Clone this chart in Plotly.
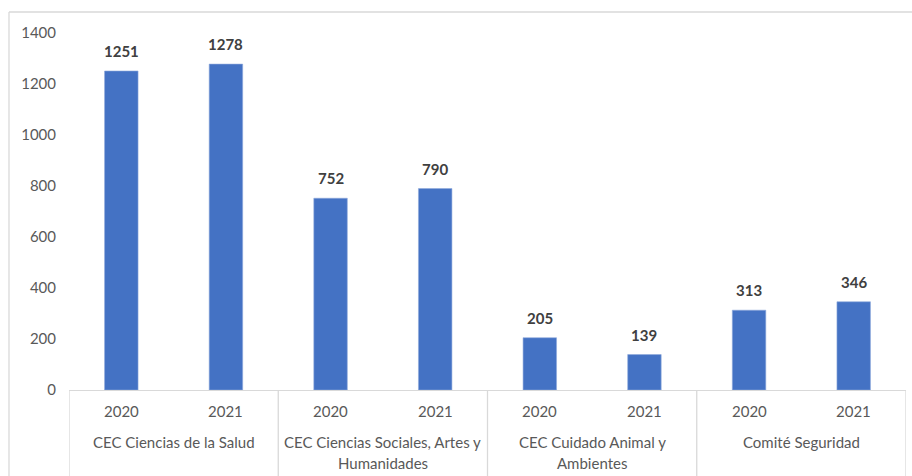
import plotly.graph_objects as go

groups = ["CEC Ciencias de la Salud", "CEC Ciencias Sociales, Artes y\nHumanidades",
          "CEC Cuidado Animal y\nAmbientes", "Comité Seguridad"]
years = ["2020", "2021"]
values = [1251, 1278, 752, 790, 205, 139, 313, 346]
y_ticks = [0, 200, 400, 600, 800, 1000, 1200, 1400]

FONT = "Lato"
TICK_COLOR = "#595959"
LINE_COLOR = "#D9D9D9"
BAR_COLOR = "#4472C4"

xs = list(range(len(values)))
year_labels = [years[i % 2] for i in xs]

fig = go.Figure()
fig.add_trace(go.Bar(
    x=xs, y=values, width=0.32,
    marker=dict(color=BAR_COLOR, line=dict(color="#8FAADC", width=0.6)),
    hoverinfo="x+y",
))

annotations = []
for x, v in zip(xs, values):
    annotations.append(dict(x=x, y=v, xref="x", yref="y", text=f"<b>{v}</b>",
                            showarrow=False, yanchor="bottom", yshift=9,
                            font=dict(family=FONT, size=15, color="#404040")))
for x, lab in zip(xs, year_labels):
    annotations.append(dict(x=x, y=0, xref="x", yref="paper", text=lab,
                            showarrow=False, yanchor="middle", yshift=-21,
                            font=dict(family=FONT, size=15, color=TICK_COLOR)))
for gi, g in enumerate(groups):
    for li, line in enumerate(g.split("\n")):
        annotations.append(dict(x=2 * gi + 0.5, y=0, xref="x", yref="paper", text=line,
                                showarrow=False, yanchor="middle", yshift=-52 - 21 * li,
                                font=dict(family=FONT, size=15, color=TICK_COLOR)))

shapes = []
for b in [-0.5, 1.5, 3.5, 5.5, 7.5]:
    shapes.append(dict(type="line", xref="x", yref="paper", x0=b, x1=b, y0=0, y1=-0.25,
                       line=dict(color=LINE_COLOR, width=1.3)))
# outer chart border (left and top)
shapes.append(dict(type="line", xref="paper", yref="paper", x0=-0.0717, x1=-0.0717,
                   y0=1.0588, y1=-0.3, line=dict(color=LINE_COLOR, width=1.3)))
shapes.append(dict(type="line", xref="paper", yref="paper", x0=-0.0717, x1=1.1,
                   y0=1.0588, y1=1.0588, line=dict(color=LINE_COLOR, width=1.3)))

fig.update_layout(
    width=912, height=476,
    margin=dict(l=69, r=6, t=33, b=86, autoexpand=False),
    paper_bgcolor="white", plot_bgcolor="white",
    showlegend=False,
    xaxis=dict(range=[-0.5, 7.5], showticklabels=False, showgrid=False, zeroline=False,
               showline=True, linecolor=LINE_COLOR, linewidth=1.3, ticks="", fixedrange=True,
               automargin=False),
    yaxis=dict(range=[0, 1400], tickvals=y_ticks, showgrid=False, zeroline=False,
               showline=False, ticks="", ticklabelstandoff=12, automargin=False,
               tickfont=dict(family=FONT, size=15, color=TICK_COLOR)),
    annotations=annotations,
    shapes=shapes,
)

fig.write_html("out.html", config={"displayModeBar": False},
               post_script="document.body.style.margin='0';")
